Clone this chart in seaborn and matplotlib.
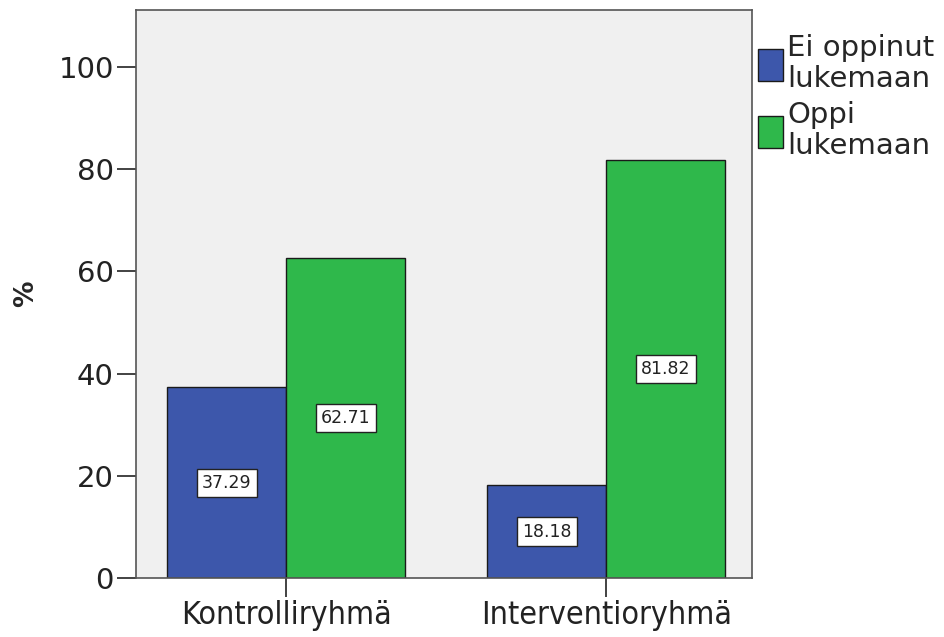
import matplotlib
matplotlib.use("Agg")
import matplotlib.pyplot as plt
import seaborn as sns
import pandas as pd

groups = ["Kontrolliryhmä", "Interventioryhmä"]
series = ["Ei oppinut\nlukemaan", "Oppi\nlukemaan"]
ei_oppinut = [37.29, 18.18]
oppi = [62.71, 81.82]
yticks = [0, 20, 40, 60, 80, 100]

rows = []
for g, v in zip(groups, ei_oppinut):
    rows.append({"group": g, "series": series[0], "value": v})
for g, v in zip(groups, oppi):
    rows.append({"group": g, "series": series[1], "value": v})
df = pd.DataFrame(rows)

sns.set_theme(style="white")
plt.rcParams['font.family'] = ['DejaVu Sans']

fig = plt.figure(figsize=(9.44, 6.37), dpi=100)
ax = fig.add_axes([0.144, 0.0926, 0.653, 0.892])
ax.set_facecolor("#f0f0f0")

palette = {series[0]: "#3d57ab", series[1]: "#2fb84b"}
sns.barplot(data=df, x="group", y="value", hue="series", order=groups,
            hue_order=series, palette=palette, width=0.744, saturation=1,
            edgecolor="#1a1a1a", linewidth=1.0, ax=ax, legend=True)

for cont in ax.containers:
    for bar in cont:
        h = bar.get_height()
        ax.text(bar.get_x() + bar.get_width() / 2, h / 2, f"{h:.2f}",
                ha="center", va="center", fontsize=12.5, color="#222222",
                bbox=dict(boxstyle="square,pad=0.3", fc="white", ec="#222222", lw=1.0))

ax.set_xlim(-0.469, 1.456)
ax.set_ylim(0, 111.2)
ax.set_yticks(yticks)
ax.set_yticklabels([str(t) for t in yticks])
ax.set_xlabel("")
ax.set_ylabel("%", fontsize=19, fontweight="bold", labelpad=14)
ax.tick_params(axis="y", which="both", left=True, length=14, width=1.2,
               labelsize=21, colors="#222222", pad=2)
ax.tick_params(axis="x", which="both", bottom=True, length=14, width=1.2,
               labelsize=23, colors="#222222", pad=2)
for lab in ax.get_xticklabels():
    lab.set_fontstretch("condensed")
for s in ax.spines.values():
    s.set_color("#555555")
    s.set_linewidth(1.2)
    s.set_visible(True)

handles, labels = ax.get_legend_handles_labels()
leg = ax.legend(handles, labels, loc="upper left", bbox_to_anchor=(0.995, 0.972),
                frameon=False, fontsize=21, handlelength=0.85, handleheight=1.3,
                handletextpad=0.15, labelspacing=0.3, borderaxespad=0.1,
                borderpad=0.2)
for t in leg.get_texts():
    t.set_linespacing(1.1)

fig.savefig("out.png", dpi=100, facecolor="white")
